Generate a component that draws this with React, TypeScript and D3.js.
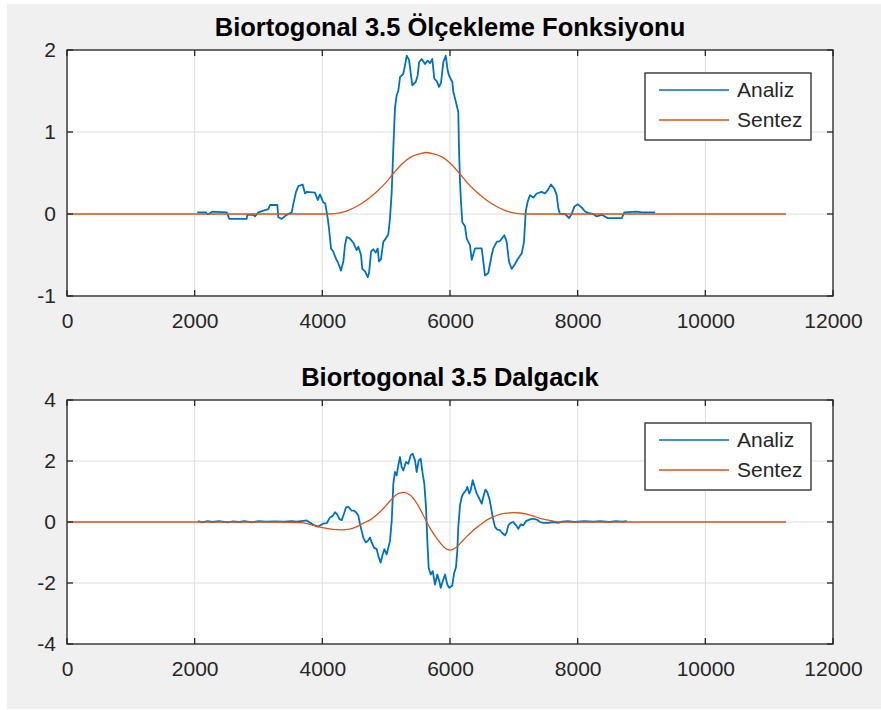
import { useEffect, useRef } from "react";
import * as d3 from "d3";

// tick values and labels
const xTicks = [0, 2000, 4000, 6000, 8000, 10000, 12000];
const yTicksPhi = [-1, 0, 1, 2];
const yTicksPsi = [-4, -2, 0, 2, 4];
const seriesNames = ["Analiz", "Sentez"];
const titles = ["Biortogonal 3.5 Ölçekleme Fonksiyonu", "Biortogonal 3.5 Dalgacık"];

// top panel: analysis scaling function
const phiAnalizX = [
  2041, 2178, 2193, 2230, 2272, 2502, 2543, 2815, 2825, 2919, 2945, 2997, 3075, 3154, 3180, 3295,
  3310, 3363, 3442, 3520, 3545, 3588, 3624, 3692, 3729, 3755, 3885, 3928, 3963, 4015, 4045, 4084,
  4105, 4136, 4172, 4210, 4250, 4292, 4329, 4355, 4382, 4433, 4485, 4538, 4564, 4606, 4626, 4669,
  4711, 4732, 4763, 4798, 4836, 4867, 4888, 4919, 4955, 4993, 5033, 5060, 5087, 5112, 5138, 5165,
  5190, 5217, 5268, 5295, 5322, 5358, 5389, 5410, 5463, 5494, 5515, 5557, 5609, 5651, 5687, 5723,
  5754, 5792, 5828, 5859, 5895, 5933, 5964, 5984, 6036, 6052, 6078, 6104, 6130, 6141, 6157, 6172,
  6193, 6235, 6262, 6313, 6340, 6392, 6497, 6522, 6548, 6600, 6653, 6678, 6732, 6783, 6851, 6888,
  6924, 6966, 7018, 7070, 7124, 7159, 7186, 7217, 7253, 7305, 7358, 7436, 7488, 7540, 7582, 7634,
  7672, 7697, 7723, 7802, 7865, 7907, 7948, 8001, 8063, 8115, 8178, 8245, 8298, 8377, 8471, 8690,
  8731, 8925, 9008, 9212,
];
const phiAnalizY = [
  0.02, 0.02, 0.0, 0.0, 0.03, 0.02, -0.06, -0.06, -0.01, -0.01, -0.03, 0.02, 0.04, 0.06, 0.11, 0.11,
  -0.04, -0.06, -0.01, 0.02, 0.12, 0.27, 0.34, 0.36, 0.25, 0.27, 0.26, 0.17, 0.24, 0.14, 0.13, -0.05,
  -0.18, -0.42, -0.46, -0.54, -0.6, -0.69, -0.58, -0.38, -0.28, -0.3, -0.35, -0.44, -0.4, -0.5, -0.67, -0.7,
  -0.77, -0.72, -0.46, -0.43, -0.47, -0.42, -0.58, -0.55, -0.34, -0.3, -0.25, -0.05, 0.27, 0.8, 1.29, 1.45,
  1.5, 1.67, 1.71, 1.81, 1.93, 1.88, 1.69, 1.57, 1.61, 1.69, 1.85, 1.89, 1.83, 1.87, 1.84, 1.89,
  1.65, 1.62, 1.55, 1.6, 1.85, 1.93, 1.75, 1.69, 1.61, 1.49, 1.41, 1.33, 1.24, 0.8, 0.39, 0.15,
  -0.1, -0.15, -0.3, -0.38, -0.56, -0.42, -0.42, -0.58, -0.75, -0.72, -0.5, -0.42, -0.34, -0.33, -0.26, -0.34,
  -0.58, -0.67, -0.61, -0.54, -0.48, -0.34, 0.03, 0.15, 0.23, 0.2, 0.25, 0.27, 0.25, 0.3, 0.36, 0.31,
  0.23, 0.07, 0.0, 0.0, -0.05, 0.0, 0.09, 0.12, 0.08, 0.03, 0.01, 0.0, -0.03, -0.01, -0.05, -0.05,
  0.02, 0.03, 0.02, 0.02,
];

// top panel: synthesis scaling function
const phiSentezX = [
  0, 4096, 4224, 4352, 4480, 4608, 4736, 4864, 4992, 5120, 5248, 5376, 5504, 5632,
  5760, 5888, 6016, 6144, 6272, 6400, 6528, 6656, 6784, 6912, 7040, 7168, 11264,
];
const phiSentezY = [
  0, 0, 0.008, 0.03, 0.07, 0.125, 0.195, 0.28, 0.38, 0.5, 0.61, 0.69, 0.73, 0.75,
  0.73, 0.69, 0.61, 0.5, 0.38, 0.28, 0.195, 0.125, 0.07, 0.03, 0.008, 0, 0,
];

// bottom panel: analysis wavelet
const psiAnalizX = [
  2052, 2120, 2200, 2280, 2380, 2520, 2600, 2700, 2780, 2900, 3000, 3120, 3250, 3400, 3520, 3600,
  3700, 3755, 3859, 3937, 4015, 4068, 4120, 4162, 4198, 4235, 4266, 4303, 4339, 4371, 4407, 4460,
  4496, 4527, 4564, 4590, 4617, 4642, 4679, 4711, 4747, 4773, 4809, 4852, 4877, 4914, 4946, 4971,
  5008, 5034, 5060, 5087, 5112, 5138, 5165, 5190, 5217, 5243, 5268, 5311, 5347, 5384, 5416, 5452,
  5478, 5510, 5541, 5572, 5598, 5624, 5645, 5666, 5698, 5729, 5765, 5801, 5833, 5854, 5886, 5922,
  5958, 5989, 6036, 6063, 6094, 6115, 6130, 6157, 6183, 6209, 6251, 6271, 6303, 6324, 6356, 6387,
  6418, 6459, 6497, 6522, 6553, 6584, 6616, 6642, 6669, 6705, 6741, 6783, 6819, 6862, 6888, 6914,
  6951, 6992, 7034, 7070, 7108, 7149, 7191, 7243, 7296, 7358, 7410, 7462, 7540, 7618, 7697, 7750,
  7850, 7950, 8100, 8250, 8350, 8500, 8600, 8700, 8770,
];
const psiAnalizY = [
  0.03, -0.01, 0.03, 0.0, 0.03, -0.01, 0.02, 0.0, 0.03, -0.01, 0.03, 0.01, 0.02, 0.01, 0.03, 0.01,
  0.04, 0.05, -0.09, -0.15, -0.05, -0.04, 0.15, 0.2, 0.32, 0.24, 0.1, 0.06, 0.27, 0.48, 0.5, 0.37,
  0.37, 0.32, 0.21, -0.07, -0.3, -0.51, -0.67, -0.62, -0.51, -0.67, -0.84, -0.89, -1.12, -1.33, -1.06, -0.89,
  -1.06, -0.84, -0.62, 0.04, 1.25, 1.64, 1.53, 1.86, 2.13, 1.8, 1.69, 1.97, 1.91, 2.19, 2.24, 2.02,
  1.64, 2.02, 2.08, 1.58, 1.25, 0.48, -0.62, -1.5, -1.72, -1.61, -2.05, -1.72, -1.94, -2.16, -1.94, -1.72,
  -2.05, -2.16, -2.08, -1.69, -1.48, -0.93, -0.16, 0.55, 0.82, 0.93, 1.04, 1.15, 0.93, 1.04, 1.37, 1.15,
  0.93, 0.77, 0.6, 0.82, 1.06, 0.98, 0.77, 0.49, 0.16, -0.16, -0.25, -0.27, -0.36, -0.44, -0.33, -0.11,
  -0.03, 0.0, -0.11, -0.22, -0.08, -0.11, 0.03, 0.08, 0.11, 0.08, 0.0, -0.03, -0.03, 0.0, -0.03, 0.01,
  0.03, 0.0, 0.03, 0.01, 0.03, 0.0, 0.03, 0.01, 0.03,
];

// bottom panel: synthesis wavelet
const psiSentezX = [
  0, 3300, 3650, 3760, 3910, 4070, 4170, 4300, 4430, 4540, 4640, 4750, 4850, 4960, 5060, 5170,
  5270, 5370, 5480, 5580, 5635, 5690, 5790, 5900, 6000, 6100, 6160, 6260, 6370, 6470, 6580, 6680,
  6780, 6890, 7000, 7100, 7200, 7300, 7410, 7520, 7620, 7720, 11264,
];
const psiSentezY = [
  0, 0, -0.02, -0.05, -0.14, -0.21, -0.245, -0.26, -0.235, -0.15, -0.04, 0.07, 0.23, 0.45, 0.69, 0.91,
  0.97, 0.89, 0.61, 0.23, 0, -0.21, -0.53, -0.81, -0.92, -0.83, -0.7, -0.48, -0.26, -0.1, 0.07, 0.17,
  0.25, 0.29, 0.305, 0.295, 0.26, 0.2, 0.12, 0.07, 0.03, 0, 0,
];

const BLUE = "#0072BD";
const ORANGE = "#D95319";
const INK = "#262626";
const FONT = "'Liberation Sans', Arial, Helvetica, sans-serif";

const W = 881;
const H = 710;

const zip = (xs, ys) => xs.map((x, i) => [x, ys[i]]);

function drawPanel(svg, opts) {
  const { top, bottom, yDomain, yTicks, title, analiz, sentez } = opts;
  const left = 67;
  const right = 833;

  const x = d3.scaleLinear().domain([0, 12000]).range([left, right]);
  const y = d3.scaleLinear().domain(yDomain).range([bottom, top]);

  const g = svg.append("g");

  g.append("rect")
    .attr("x", left).attr("y", top)
    .attr("width", right - left).attr("height", bottom - top)
    .attr("fill", "#ffffff");

  // grid
  g.append("g").selectAll("line").data(xTicks).enter().append("line")
    .attr("x1", (d) => x(d)).attr("x2", (d) => x(d))
    .attr("y1", top).attr("y2", bottom)
    .attr("stroke", "#dedede").attr("stroke-width", 1);
  g.append("g").selectAll("line").data(yTicks).enter().append("line")
    .attr("x1", left).attr("x2", right)
    .attr("y1", (d) => y(d)).attr("y2", (d) => y(d))
    .attr("stroke", "#dedede").attr("stroke-width", 1);

  g.append("path")
    .datum(analiz)
    .attr("d", d3.line().x((d) => x(d[0])).y((d) => y(d[1])))
    .attr("fill", "none").attr("stroke", BLUE).attr("stroke-width", 1.8)
    .attr("stroke-linejoin", "round");

  g.append("path")
    .datum(sentez)
    .attr("d", d3.line().x((d) => x(d[0])).y((d) => y(d[1])).curve(d3.curveMonotoneX))
    .attr("fill", "none").attr("stroke", ORANGE).attr("stroke-width", 1.3);

  // box
  g.append("rect")
    .attr("x", left).attr("y", top)
    .attr("width", right - left).attr("height", bottom - top)
    .attr("fill", "none").attr("stroke", INK).attr("stroke-width", 1.3);

  // inward ticks on all four sides
  const tk = 6;
  const ticks = g.append("g").attr("stroke", INK).attr("stroke-width", 1.3);
  xTicks.forEach((t) => {
    ticks.append("line").attr("x1", x(t)).attr("x2", x(t)).attr("y1", bottom).attr("y2", bottom - tk);
    ticks.append("line").attr("x1", x(t)).attr("x2", x(t)).attr("y1", top).attr("y2", top + tk);
  });
  yTicks.forEach((t) => {
    ticks.append("line").attr("x1", left).attr("x2", left + tk).attr("y1", y(t)).attr("y2", y(t));
    ticks.append("line").attr("x1", right).attr("x2", right - tk).attr("y1", y(t)).attr("y2", y(t));
  });

  // tick labels via d3 axes (plain hyphen for negatives, like the original)
  const fmt = (d) => String(d);
  const xAxis = g.append("g")
    .attr("transform", `translate(0,${bottom})`)
    .call(d3.axisBottom(x).tickValues(xTicks).tickFormat(fmt).tickSize(0).tickPadding(17));
  xAxis.select(".domain").remove();
  xAxis.selectAll("text").attr("fill", INK).style("font-family", FONT).style("font-size", "21px");

  const yAxis = g.append("g")
    .attr("transform", `translate(${left},0)`)
    .call(d3.axisLeft(y).tickValues(yTicks).tickFormat(fmt).tickSize(0).tickPadding(11));
  yAxis.select(".domain").remove();
  yAxis.selectAll("text").attr("fill", INK).style("font-family", FONT).style("font-size", "21px");

  // title
  g.append("text")
    .attr("x", (left + right) / 2).attr("y", top - 14)
    .attr("text-anchor", "middle")
    .attr("fill", "#000")
    .style("font-family", FONT).style("font-size", "25.5px").style("font-weight", "bold")
    .text(title);

  // legend
  const lx = 645, ly = top + 23, lw = 166, lh = 67;
  const leg = g.append("g");
  leg.append("rect")
    .attr("x", lx).attr("y", ly).attr("width", lw).attr("height", lh)
    .attr("fill", "#ffffff").attr("stroke", INK).attr("stroke-width", 1.3);
  const colors = [BLUE, ORANGE];
  seriesNames.forEach((name, i) => {
    const yy = ly + 17 + i * 30;
    leg.append("line")
      .attr("x1", lx + 14).attr("x2", lx + 84).attr("y1", yy).attr("y2", yy)
      .attr("stroke", colors[i]).attr("stroke-width", i === 0 ? 1.6 : 1.3);
    leg.append("text")
      .attr("x", lx + 92).attr("y", yy).attr("dy", "0.35em")
      .attr("fill", INK)
      .style("font-family", FONT).style("font-size", "21px")
      .text(name);
  });
}

export default function App() {
  const ref = useRef(null);

  useEffect(() => {
    document.body.style.margin = "0";
    const svg = d3.select(ref.current);
    svg.selectAll("*").remove();

    svg.append("rect").attr("x", 0).attr("y", 0).attr("width", W).attr("height", H).attr("fill", "#ffffff");
    svg.append("rect").attr("x", 7).attr("y", 4).attr("width", W - 7).attr("height", 705).attr("fill", "#f0f0f0");

    drawPanel(svg, {
      top: 50, bottom: 296, yDomain: [-1, 2], yTicks: yTicksPhi, title: titles[0],
      analiz: zip(phiAnalizX, phiAnalizY), sentez: zip(phiSentezX, phiSentezY),
    });
    drawPanel(svg, {
      top: 400, bottom: 644, yDomain: [-4, 4], yTicks: yTicksPsi, title: titles[1],
      analiz: zip(psiAnalizX, psiAnalizY), sentez: zip(psiSentezX, psiSentezY),
    });
  }, []);

  return (
    <svg ref={ref} width={W} height={H} style={{ display: "block" }} />
  );
}
